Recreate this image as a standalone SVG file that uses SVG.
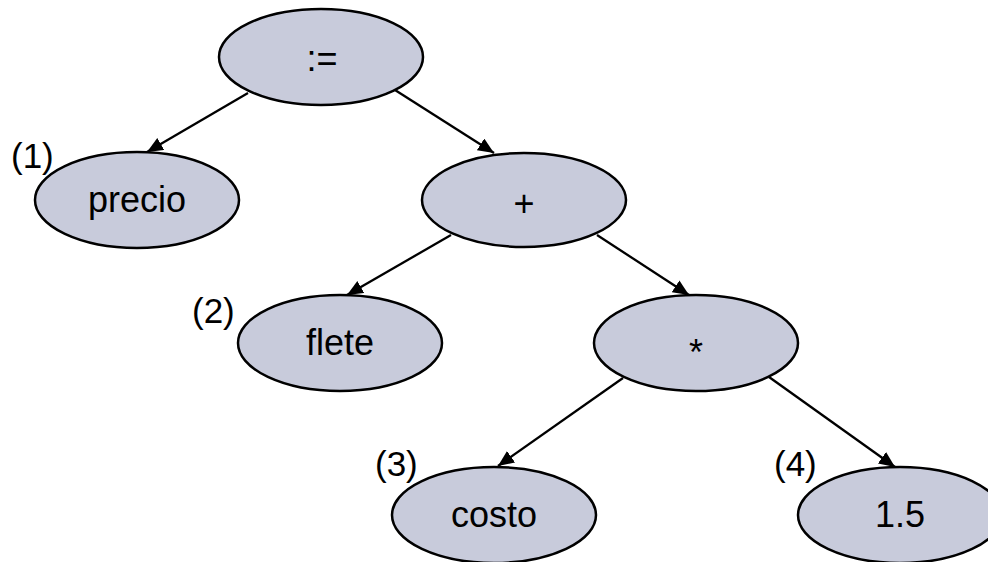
<svg xmlns="http://www.w3.org/2000/svg" width="988" height="562" viewBox="0 0 988 562">
<style>
.node ellipse{fill:#c8cbdb;stroke:#000;stroke-width:2.5}
.node text{font-family:"Liberation Sans",Arial,sans-serif;font-size:36px;fill:#000;text-anchor:middle}
.lbl{font-family:"Liberation Sans",Arial,sans-serif;font-size:35px;fill:#000}
.edge{stroke:#000;stroke-width:2.3;fill:none;marker-end:url(#arr)}
</style>
<defs>
<marker id="arr" markerUnits="userSpaceOnUse" markerWidth="17" markerHeight="15" refX="16" refY="7" orient="auto">
<path d="M0,0 L16,7 L0,14 z" fill="#000"/>
</marker>
</defs>
<rect width="988" height="562" fill="#fff"/>
<g id="n-assign" class="node"><ellipse cx="321" cy="57" rx="102" ry="48"/><text x="322" y="71">:=</text></g>
<g id="n-precio" class="node"><ellipse cx="137" cy="200" rx="102" ry="48"/><text x="137" y="212">precio</text></g>
<g id="n-plus" class="node"><ellipse cx="524" cy="200" rx="102" ry="47"/><text x="524" y="216">+</text></g>
<g id="n-flete" class="node"><ellipse cx="340" cy="343" rx="102" ry="48"/><text x="340" y="355">flete</text></g>
<g id="n-star" class="node"><ellipse cx="696" cy="343" rx="102" ry="48"/><text x="696" y="365">*</text></g>
<g id="n-costo" class="node"><ellipse cx="494" cy="515" rx="102" ry="48"/><text x="494" y="527">costo</text></g>
<g id="n-15" class="node"><ellipse cx="900" cy="515" rx="102" ry="48"/><text x="900" y="527">1.5</text></g>
<g id="labels">
<text class="lbl" x="11" y="168">(1)</text>
<text class="lbl" x="192" y="323">(2)</text>
<text class="lbl" x="375" y="476">(3)</text>
<text class="lbl" x="774" y="476">(4)</text>
</g>
<g id="connectors">
<line class="edge" x1="248" y1="93" x2="147" y2="152"/>
<line class="edge" x1="395" y1="90" x2="494" y2="153"/>
<line class="edge" x1="451" y1="235" x2="347" y2="295"/>
<line class="edge" x1="597" y1="235" x2="689" y2="295"/>
<line class="edge" x1="623" y1="378" x2="498" y2="466"/>
<line class="edge" x1="769" y1="377" x2="895" y2="467"/>
</g>
</svg>
